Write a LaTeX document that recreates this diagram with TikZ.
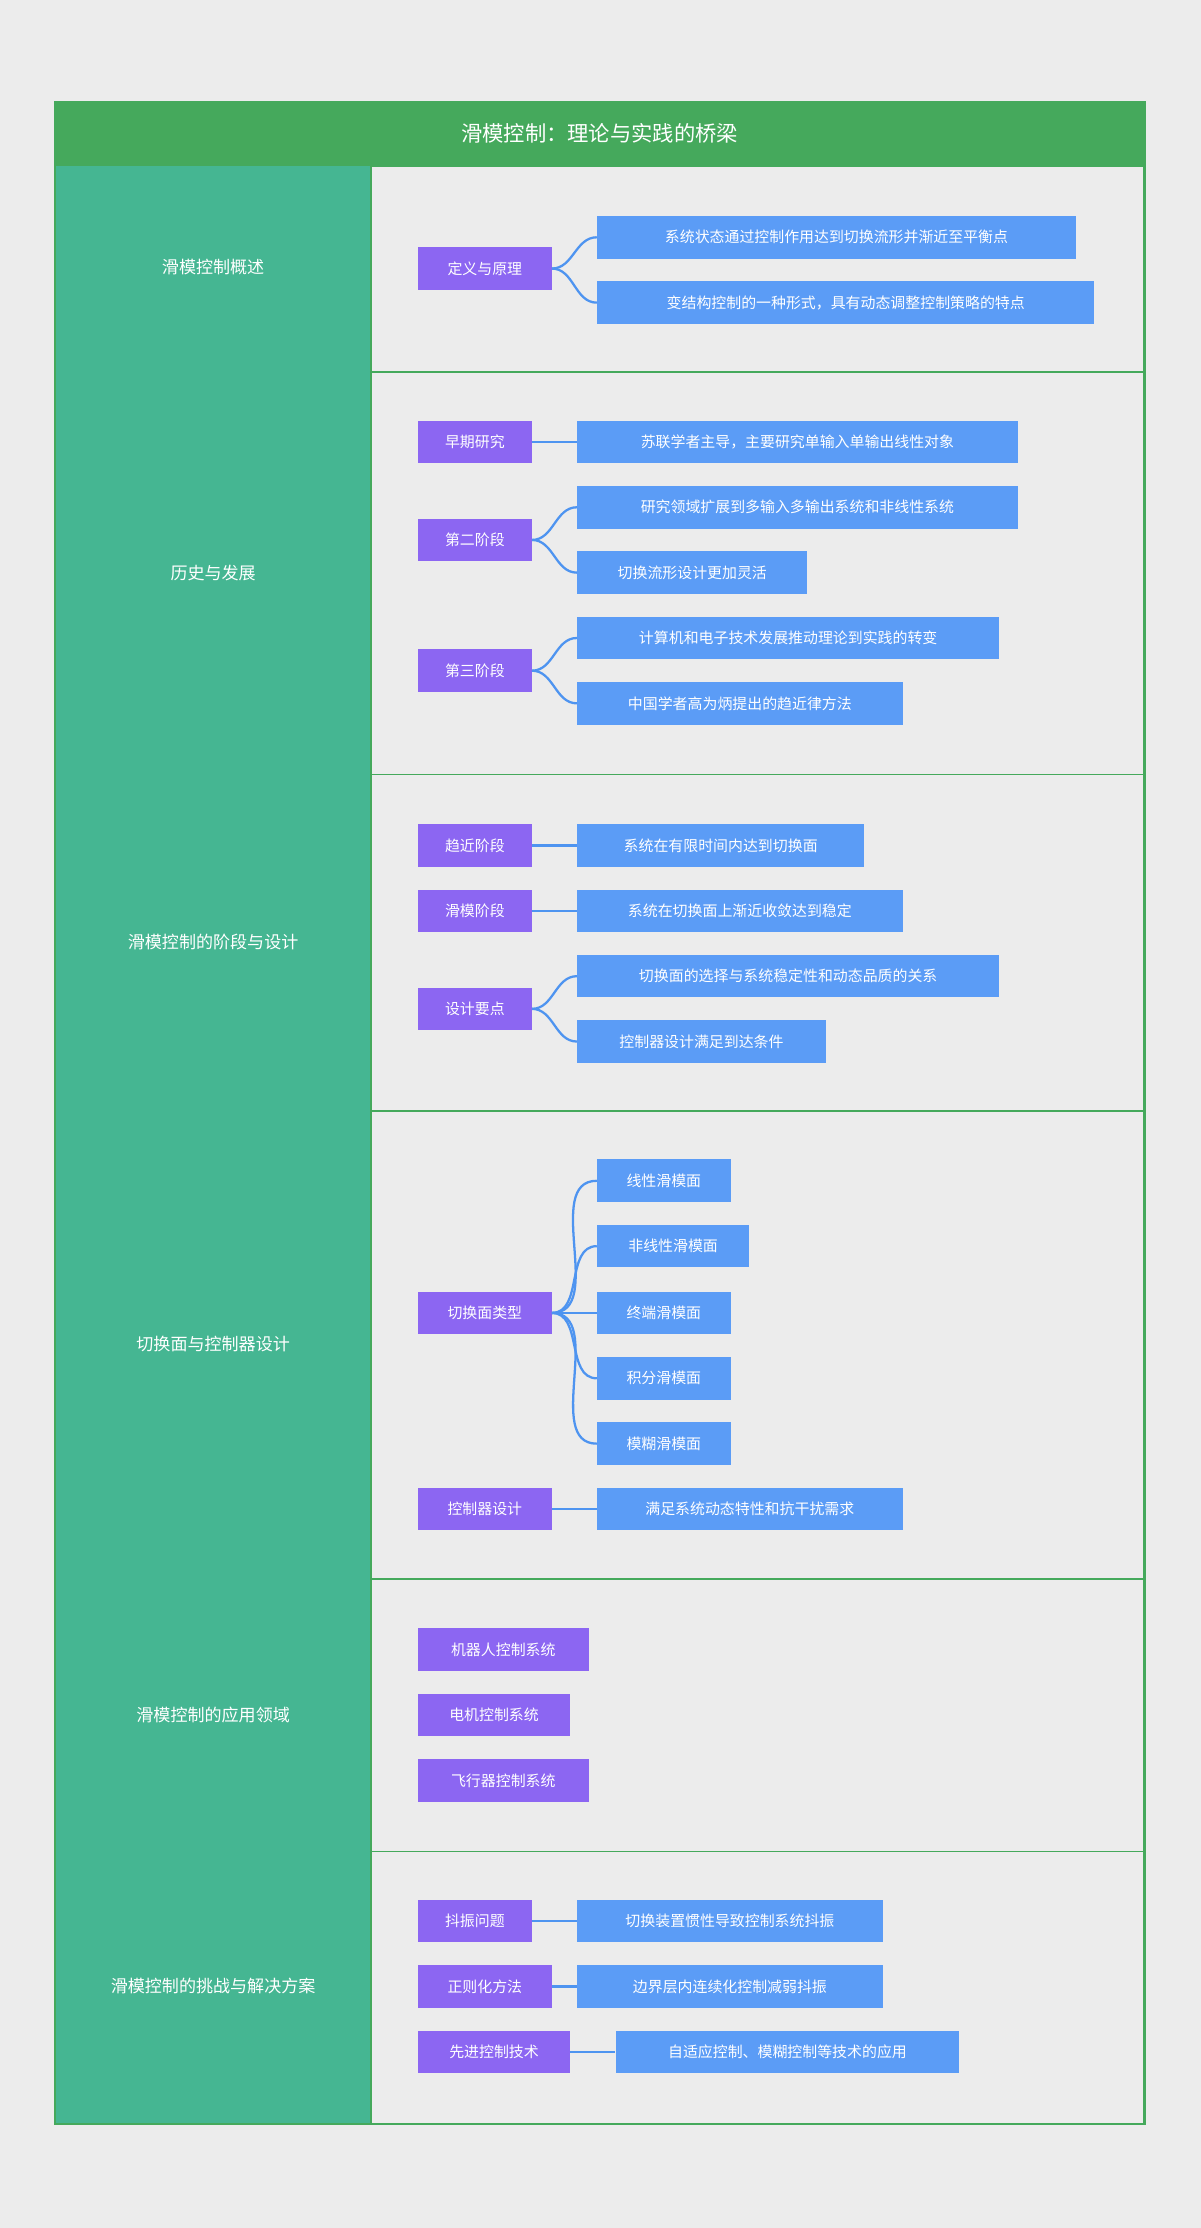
\documentclass[tikz,border=0pt]{standalone}
\usepackage{fontspec}
\setmainfont{Noto Sans CJK SC}
\definecolor{bg}{HTML}{ECECEC}
\definecolor{gr}{HTML}{45A95C}
\definecolor{teal}{HTML}{45B692}
\definecolor{pur}{HTML}{8C66F2}
\definecolor{blu}{HTML}{5B9CF6}
\definecolor{lin}{HTML}{4E94F0}
\tikzset{
 box/.style={anchor=west,minimum height=30,inner sep=0,text=white,font=\fontsize{10.5}{12}\selectfont},
 pn/.style={box,fill=pur},
 bn/.style={box,fill=blu},
 con/.style={lin,line width=1.6pt},
 lab/.style={text=white,font=\fontsize{12}{14}\selectfont}
}
\newcommand{\pnode}[5]{\node[pn,minimum width=#3-#2] (#1) at (#2,#4) {#5};}
\newcommand{\bnode}[5]{\node[bn,minimum width=#3-#2] (#1) at (#2,#4) {#5};}
\newcommand{\conn}[2]{\draw[con] (#1.east) to[out=0,in=180] (#2.west);}
\begin{document}
\begin{tikzpicture}[x=1pt,y=-1pt]
\fill[bg] (0,0) rectangle (845,1568);
\useasboundingbox (0,0) rectangle (845,1568);
\fill[teal] (39,117) rectangle (261,1495);
\foreach \a/\b in {117/262,262/545,545/782,782/1111,1111/1303,1303/1495}{
 \draw[gr,line width=1.2pt] (261,\a) rectangle (805,\b);}
\fill[gr] (39,72) rectangle (806,117);
\draw[gr,line width=1.5pt] (39,72) rectangle (806,1495);
\node[text=white,font=\fontsize{15}{18}\selectfont] (title) at (422,94) {滑模控制：理论与实践的桥梁};
\node[lab] (l1) at (150,188) {滑模控制概述};
\node[lab] (l2) at (150,403) {历史与发展};
\node[lab] (l3) at (150,663) {滑模控制的阶段与设计};
\node[lab] (l4) at (150,946) {切换面与控制器设计};
\node[lab] (l5) at (150,1207) {滑模控制的应用领域};
\node[lab] (l6) at (150,1398) {滑模控制的挑战与解决方案};
% s1
\pnode{a}{294}{388}{189}{定义与原理}
\bnode{a1}{420}{757}{167}{系统状态通过控制作用达到切换流形并渐近至平衡点}
\bnode{a2}{420}{770}{213}{变结构控制的一种形式，具有动态调整控制策略的特点}
\conn{a}{a1}\conn{a}{a2}
% s2
\pnode{b}{294}{374}{311}{早期研究}
\bnode{b1}{406}{716}{311}{苏联学者主导，主要研究单输入单输出线性对象}
\pnode{c}{294}{374}{380}{第二阶段}
\bnode{c1}{406}{716}{357}{研究领域扩展到多输入多输出系统和非线性系统}
\bnode{c2}{406}{568}{403}{切换流形设计更加灵活}
\pnode{d}{294}{374}{472}{第三阶段}
\bnode{d1}{406}{703}{449}{计算机和电子技术发展推动理论到实践的转变}
\bnode{d2}{406}{635}{495}{中国学者高为炳提出的趋近律方法}
\conn{b}{b1}\conn{c}{c1}\conn{c}{c2}\conn{d}{d1}\conn{d}{d2}
% s3
\pnode{e}{294}{374}{595}{趋近阶段}
\bnode{e1}{406}{608}{595}{系统在有限时间内达到切换面}
\pnode{f}{294}{374}{641}{滑模阶段}
\bnode{f1}{406}{635}{641}{系统在切换面上渐近收敛达到稳定}
\pnode{g}{294}{374}{710}{设计要点}
\bnode{g1}{406}{703}{687}{切换面的选择与系统稳定性和动态品质的关系}
\bnode{g2}{406}{581}{733}{控制器设计满足到达条件}
\conn{e}{e1}\conn{f}{f1}\conn{g}{g1}\conn{g}{g2}
% s4
\pnode{h}{294}{388}{924}{切换面类型}
\bnode{h1}{420}{514}{831}{线性滑模面}
\bnode{h2}{420}{527}{877}{非线性滑模面}
\bnode{h3}{420}{514}{924}{终端滑模面}
\bnode{h4}{420}{514}{970}{积分滑模面}
\bnode{h5}{420}{514}{1016}{模糊滑模面}
\foreach \i in {1,...,5}{\conn{h}{h\i}}
\pnode{k}{294}{388}{1062}{控制器设计}
\bnode{k1}{420}{635}{1062}{满足系统动态特性和抗干扰需求}
\conn{k}{k1}
% s5
\pnode{m1}{294}{414}{1161}{机器人控制系统}
\pnode{m2}{294}{401}{1207}{电机控制系统}
\pnode{m3}{294}{414}{1253}{飞行器控制系统}
% s6
\pnode{n}{294}{374}{1352}{抖振问题}
\bnode{n1}{406}{621}{1352}{切换装置惯性导致控制系统抖振}
\pnode{o}{294}{388}{1398}{正则化方法}
\bnode{o1}{406}{621}{1398}{边界层内连续化控制减弱抖振}
\pnode{p}{294}{401}{1444}{先进控制技术}
\bnode{p1}{433}{675}{1444}{自适应控制、模糊控制等技术的应用}
\conn{n}{n1}\conn{o}{o1}\conn{p}{p1}
\end{tikzpicture}
\end{document}
